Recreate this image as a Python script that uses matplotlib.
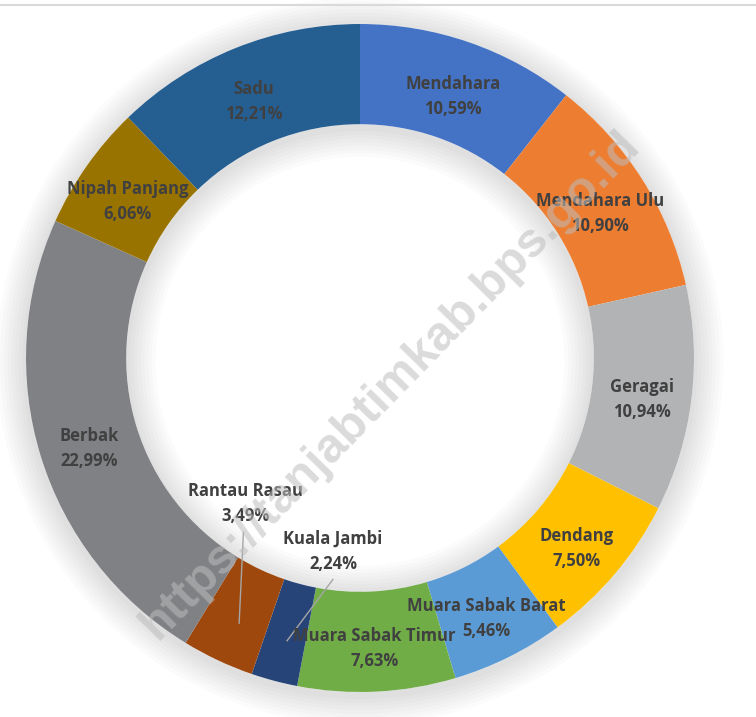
import numpy as np
import matplotlib.pyplot as plt
from matplotlib.patches import Wedge

plt.rcParams['font.family'] = ['Open Sans', 'DejaVu Sans']

# data (Excel order: clockwise from 12 o'clock)
kecamatan = ['Mendahara', 'Mendahara Ulu', 'Geragai', 'Dendang', 'Muara Sabak Barat',
             'Muara Sabak Timur', 'Kuala Jambi', 'Rantau Rasau', 'Berbak',
             'Nipah Panjang', 'Sadu']
persen = [10.59, 10.90, 10.94, 7.50, 5.46, 7.63, 2.24, 3.49, 22.99, 6.06, 12.21]
warna = ['#4472C4', '#ED7D31', '#B2B3B5', '#FFC000', '#5B9BD5', '#70AD47',
         '#264478', '#9E480E', '#808184', '#997300', '#255E91']

W, H = 756, 717
cx, cy, R = 360, 358, 334   # pixel centre/radius of ring
lebar = 0.30

fig = plt.figure(figsize=(W / 100, H / 100), dpi=100)
ax = fig.add_axes([(cx - R) / W, (H - cy - R) / H, 2 * R / W, 2 * R / H])

# soft shadow around the ring
for k in range(1, 9):
    ax.add_patch(Wedge((0.0, -0.01), 1 + 0.011 * k, 0, 360, width=lebar + 0.022 * k,
                       facecolor='#000000', alpha=0.015, edgecolor='none', zorder=1,
                       clip_on=False))
ax.add_patch(Wedge((0, 0), 1, 0, 360, width=lebar, facecolor='white',
                   edgecolor='none', zorder=2, clip_on=False))

wedges, _ = ax.pie(persen, colors=warna, startangle=90, counterclock=False,
                   radius=1, wedgeprops=dict(width=lebar, edgecolor='none'))
for w in wedges:
    w.set_zorder(3)
    w.set_clip_on(False)
ax.set_xlim(-1, 1)
ax.set_ylim(-1, 1)
ax.set_aspect('equal')
ax.axis('off')

# labels
tengah = 1 - lebar / 2
geser = {'Rantau Rasau': (-0.344, -0.437), 'Kuala Jambi': (-0.081, -0.578)}
for w, nama, p in zip(wedges, kecamatan, persen):
    sudut = np.deg2rad((w.theta1 + w.theta2) / 2)
    mx, my = tengah * np.cos(sudut), tengah * np.sin(sudut) - 0.02
    teks = f"{nama}\n{p:.2f}%".replace('.', ',')
    if nama in geser:
        tx, ty = geser[nama]
        ax.plot([tx - 0.005 if nama == 'Rantau Rasau' else tx, mx],
                [ty - 0.085, my - 0.005], color='#A6A6A6', lw=1, zorder=5)
    else:
        tx, ty = mx, my
    ax.text(tx, ty, teks, ha='center', va='center', fontsize=12,
            fontweight='bold', color='#404040', linespacing=1.5, zorder=6)

# watermark
fig.text(390 / W, 1 - 385 / H, 'https://tanjabtimkab.bps.go.id', rotation=45.6,
         ha='center', va='center', fontsize=35, fontweight='bold',
         family='Liberation Sans', color='#BDBDBD', alpha=0.55, zorder=10)

# thin line on top
fig.add_artist(plt.Line2D([0, 1], [1 - 5 / H, 1 - 5 / H], color='#D9D9D9', lw=1.5))

fig.savefig('out.png', dpi=100)
